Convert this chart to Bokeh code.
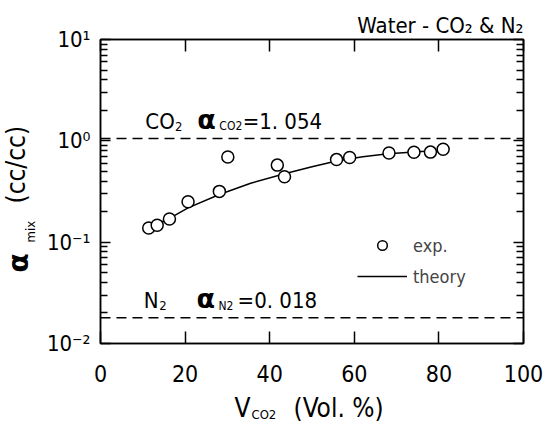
import math
from bokeh.plotting import figure
from bokeh.layouts import column, row
from bokeh.models import (LinearAxis, LogAxis, FixedTicker, CustomJSTickFormatter,
                          Label, Span, Legend, LegendItem, Range1d)
from bokeh.embed import file_html
from bokeh.resources import INLINE

# ---- data ----
exp_x = [11.4, 13.4, 16.3, 20.7, 28.1, 30.1, 41.8, 43.5, 55.8, 58.9, 68.2, 74.1, 78.0, 81.0]
exp_y = [0.138, 0.147, 0.169, 0.251, 0.317, 0.692, 0.576, 0.442, 0.653, 0.686, 0.757, 0.773, 0.774, 0.825]

theory_x = [11.4, 16.3, 20.7, 28.1, 35.5, 43.5, 50.0, 55.8, 62.0, 68.0, 75.0, 81.0]
theory_y = [0.138, 0.172, 0.218, 0.295, 0.382, 0.473, 0.555, 0.632, 0.697, 0.745, 0.780, 0.813]

alpha_co2 = 1.054
alpha_n2 = 0.018

x_ticks = [0, 20, 40, 60, 80, 100]
y_major = [0.01, 0.1, 1, 10]
y_minor = [m * d for d in [0.01, 0.1, 1] for m in range(2, 10)]

FONT = "'DejaVu Sans Condensed', 'Liberation Sans', sans-serif"
SHIFT = 0.36          # label anchor correction (fraction of font size), horizontal text
SHIFT_ROT = 0.45      # same, rotated text

YLAB_W = 42
MAIN_W, MAIN_H = 550 - YLAB_W, 390
XLAB_H = 424 - MAIN_H
FRAME_TOP, FRAME_H = 39, 304
DECADES = 3

p = figure(width=MAIN_W, height=MAIN_H, x_range=Range1d(0, 100), y_range=Range1d(0.01, 10),
           y_axis_type="log", output_backend="svg", toolbar_location=None,
           min_border_left=100 - YLAB_W, min_border_right=27, min_border_top=FRAME_TOP,
           min_border_bottom=MAIN_H - FRAME_TOP - FRAME_H,
           background_fill_color="white", border_fill_color="white")
p.grid.visible = False
p.outline_line_color = "black"
p.outline_line_width = 1.5

p.title.text = "Water - CO\u2082 & N\u2082"
p.title.align = "right"
p.title.text_font = FONT
p.title.text_font_size = "22px"
p.title.text_font_style = "normal"
p.title.text_color = "black"
p.title.standoff = 3

yticker = FixedTicker(ticks=y_major, minor_ticks=y_minor)
xticker = FixedTicker(ticks=x_ticks)
sup_fmt = CustomJSTickFormatter(code="""
const e = Math.round(Math.log10(tick));
const m = {'-2':'\u207b\u00b2','-1':'\u207b\u00b9','0':'\u2070','1':'\u00b9'};
return '10' + m[String(e)];
""")
blank = CustomJSTickFormatter(code="return ''")

def style_axis(ax, tick_in, minor=True, labels=True, size="22px", standoff=14):
    ax.axis_line_color = "black"
    ax.axis_line_width = 1.5
    ax.major_tick_in = tick_in
    ax.major_tick_out = 0
    ax.major_tick_line_width = 1.5
    ax.minor_tick_in = 7 if minor else 0
    ax.minor_tick_out = 0
    ax.minor_tick_line_width = 1.3
    if not minor:
        ax.minor_tick_line_color = None
    ax.major_label_text_font = FONT
    ax.major_label_text_color = "black"
    if labels:
        ax.major_label_text_font_size = size
        ax.major_label_standoff = standoff
    else:
        ax.major_label_text_font_size = "1px"
        ax.major_label_standoff = 0

ly = p.yaxis[0]
ly.ticker = yticker
ly.formatter = sup_fmt
style_axis(ly, 10, size="22px", standoff=10)

bx = p.xaxis[0]
bx.ticker = xticker
style_axis(bx, 12, minor=False, size="23px", standoff=21)

ry = LogAxis(ticker=yticker, formatter=blank)
style_axis(ry, 10, labels=False)
p.add_layout(ry, "right")

tx = LinearAxis(ticker=xticker, formatter=blank)
style_axis(tx, 12, minor=False, labels=False)
p.add_layout(tx, "above")

# reference lines
for loc in (alpha_co2, alpha_n2):
    p.add_layout(Span(location=loc, dimension="width", line_color="black",
                      line_width=1.5, line_dash="10 6"))

rl = p.line(theory_x, theory_y, line_color="black", line_width=1.5)
rc = p.scatter(exp_x, exp_y, marker="circle", size=12, fill_color="white",
               line_color="black", line_width=1.5)

legend = Legend(items=[LegendItem(label="exp.", renderers=[rc]),
                       LegendItem(label="theory", renderers=[rl])],
                location=(257, 55), glyph_width=50, glyph_height=24, label_height=24,
                spacing=7, padding=0, margin=0, border_line_color=None,
                background_fill_alpha=0, label_text_font=FONT,
                label_text_font_size="18px", label_standoff=6)
p.add_layout(legend)

def lab(fig, x, y, text, size, font=FONT, style="normal", angle=0.0):
    fig.add_layout(Label(x=x, y=y, text=text, text_font=font, text_font_size=f"{size}px",
                         text_font_style=style, text_color="black", angle=angle,
                         text_align="left", text_baseline="alphabetic"))

def above(level, px_gap, size):
    """value on the log axis whose baseline sits px_gap pixels above `level`"""
    return level * 10 ** ((px_gap + SHIFT * size) * DECADES / FRAME_H)

# CO2 annotation (text baseline ~9 px above the dashed line)
lab(p, 10.6, above(alpha_co2, 9, 22), "CO", 22)
lab(p, 17.6, above(alpha_co2, 7, 13), "2", 13)
lab(p, 22.9, above(alpha_co2, 9, 27), "\u03b1", 27, font="DejaVu Sans", style="bold")
lab(p, 28.1, above(alpha_co2, 8, 12), "CO2", 12)
lab(p, 33.6, above(alpha_co2, 9, 22), "=1. 054", 22)

# N2 annotation
lab(p, 10.2, above(alpha_n2, 9, 22), "N", 22)
lab(p, 13.9, above(alpha_n2, 7, 13), "2", 13)
lab(p, 22.7, above(alpha_n2, 9, 27), "\u03b1", 27, font="DejaVu Sans", style="bold")
lab(p, 27.9, above(alpha_n2, 7, 12), "N2", 12)
lab(p, 32.4, above(alpha_n2, 9, 22), "=0. 018", 22)

def strip(w, h, y0, y1):
    f = figure(width=w, height=h, x_range=Range1d(0, w), y_range=Range1d(y1, y0),
               title=None, output_backend="svg", toolbar_location=None,
               x_axis_location=None, y_axis_location=None,
               min_border=0, min_border_left=0, min_border_right=0,
               min_border_top=0, min_border_bottom=0,
               background_fill_color="white", border_fill_color="white")
    f.grid.visible = False
    f.outline_line_color = None
    return f

# y axis label strip: its frame is aligned with the main frame -> canvas pixel coords
ylab = strip(YLAB_W, MAIN_H, FRAME_TOP, FRAME_TOP + FRAME_H)
rot = math.pi / 2
lab(ylab, 31 - SHIFT_ROT * 28, 272, "\u03b1", 28, font="DejaVu Sans", style="bold", angle=rot)
lab(ylab, 36 - SHIFT_ROT * 13, 242, "mix", 13, angle=rot)
lab(ylab, 27 - SHIFT_ROT * 26, 203, "(cc/cc)", 26, angle=rot)

# x axis label strip (y measured from the strip top)
xlab = strip(550, XLAB_H, 0, XLAB_H)
lab(xlab, 234, 27 - SHIFT * 26, "V", 26)
lab(xlab, 251, 29 - SHIFT * 13, "CO2", 13)
lab(xlab, 293, 27 - SHIFT * 26, "(Vol. %)", 26)

layout = column(row(ylab, p, spacing=0), xlab, spacing=0)
open("out.html", "w").write(file_html(layout, INLINE))
